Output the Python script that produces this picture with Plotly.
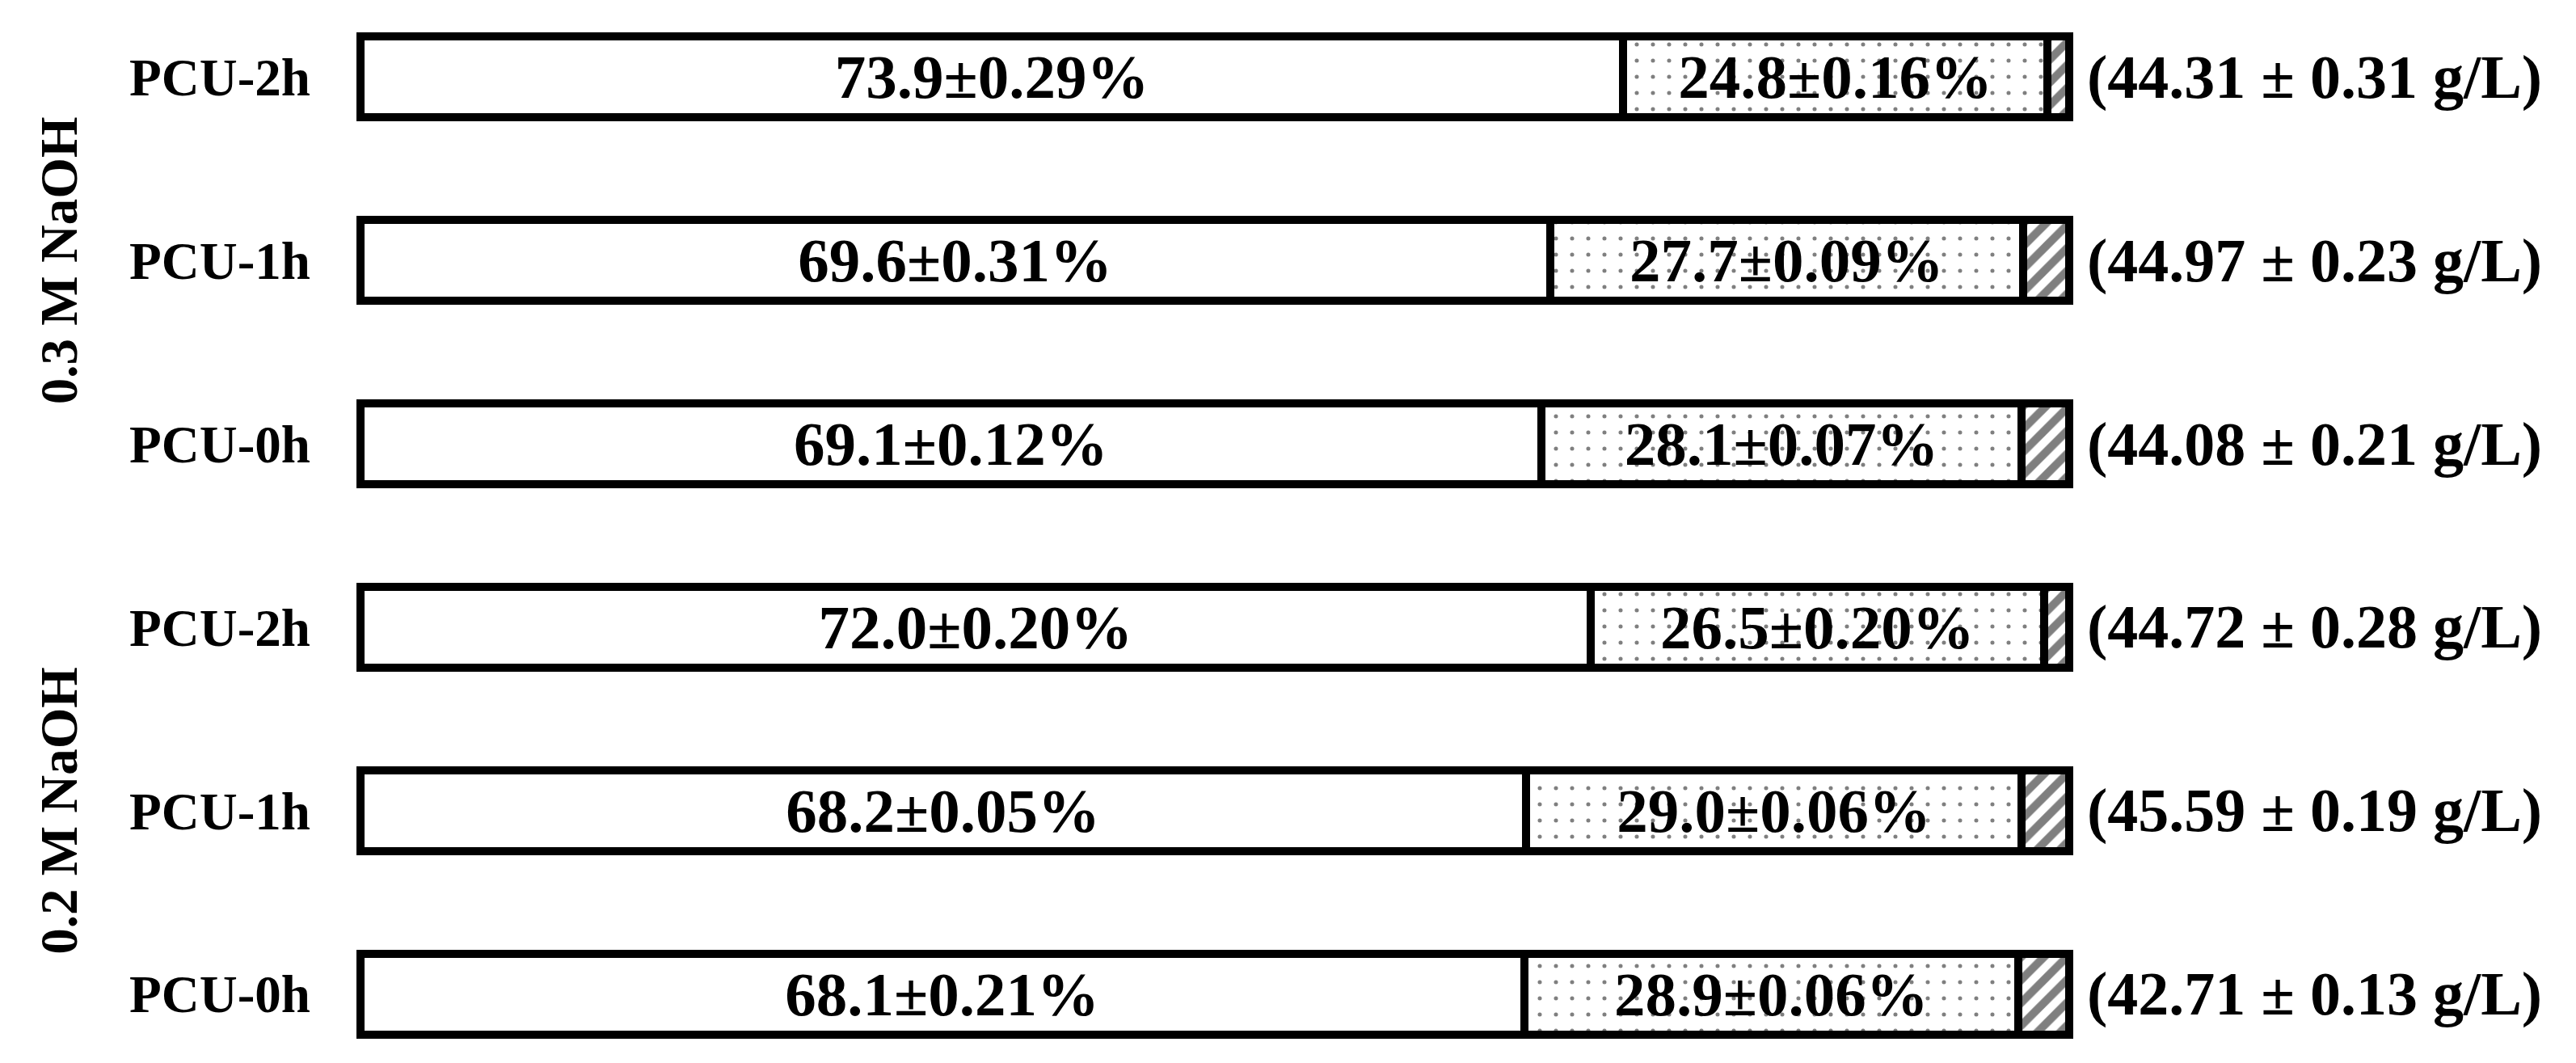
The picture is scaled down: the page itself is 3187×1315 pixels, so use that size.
import plotly.graph_objects as go

# rows listed bottom to top
samples = ["PCU-0h", "PCU-1h", "PCU-2h", "PCU-0h", "PCU-1h", "PCU-2h"]
groups = ["0.2 M NaOH", "0.3 M NaOH"]
group_rows = [[0, 1, 2], [3, 4, 5]]

share_1 = [68.1, 68.2, 72.0, 69.1, 69.6, 73.9]
err_1 = [0.21, 0.05, 0.20, 0.12, 0.31, 0.29]
share_2 = [28.9, 29.0, 26.5, 28.1, 27.7, 24.8]
err_2 = [0.06, 0.06, 0.20, 0.07, 0.09, 0.16]
share_3 = [3.0, 2.8, 1.5, 2.8, 2.7, 1.3]
conc = [42.71, 45.59, 44.72, 44.08, 44.97, 44.31]
conc_err = [0.13, 0.19, 0.28, 0.21, 0.23, 0.31]

FONT = "Liberation Serif"
rows = list(range(len(samples)))


def pct_labels(vals, errs):
  return [f"{v:.1f}±{e:.2f}%" for v, e in zip(vals, errs)]


segments = [
  (share_1, pct_labels(share_1, err_1), dict(shape="")),
  (share_2, pct_labels(share_2, err_2), dict(shape=".", size=20, solidity=0.05)),
  (share_3, None, dict(shape="/", size=20, solidity=0.5)),
]

fig = go.Figure()
for vals, labels, pattern in segments:
  pattern.update(fgcolor="black", bgcolor="white", fillmode="overlay")
  fig.add_trace(
    go.Bar(
      y=rows,
      x=vals,
      orientation="h",
      width=0.44,
      marker=dict(color="white", line=dict(color="black", width=10), pattern=pattern),
      text=labels,
      textposition="inside" if labels else "none",
      insidetextanchor="middle",
      constraintext="none",
      textfont=dict(family=FONT, size=77, color="black", weight="bold"),
      showlegend=False,
      hoverinfo="skip",
    )
  )

# concentration labels to the right of each bar
for r, c, e in zip(rows, conc, conc_err):
  fig.add_annotation(
    x=100, y=r, xref="x", yref="y",
    text=f"({c:.2f} ± {e:.2f} g/L)",
    showarrow=False, xanchor="left", xshift=20,
    font=dict(family=FONT, size=76, color="black", weight="bold"),
  )

# rotated group labels
for g, rr in zip(groups, group_rows):
  fig.add_annotation(
    x=0, y=sum(rr) / len(rr), xref="paper", yref="y",
    text=g, textangle=-90, showarrow=False,
    xanchor="center", xshift=-362,
    font=dict(family=FONT, size=65, color="black", weight="bold"),
  )

fig.update_layout(
  barmode="stack",
  width=3187,
  height=1315,
  margin=dict(l=427, r=624, t=17, b=23),
  paper_bgcolor="white",
  plot_bgcolor="white",
  font=dict(family=FONT, color="black"),
)
fig.update_xaxes(range=[-0.5, 100.5], visible=False)
fig.update_yaxes(
  range=[-0.31, 5.31],
  tickvals=rows,
  ticktext=samples,
  tickfont=dict(family=FONT, size=65, color="black", weight="bold"),
  ticklabelstandoff=50,
  showgrid=False,
  zeroline=False,
  showline=False,
  ticks="",
)

fig.write_html("out.html")
